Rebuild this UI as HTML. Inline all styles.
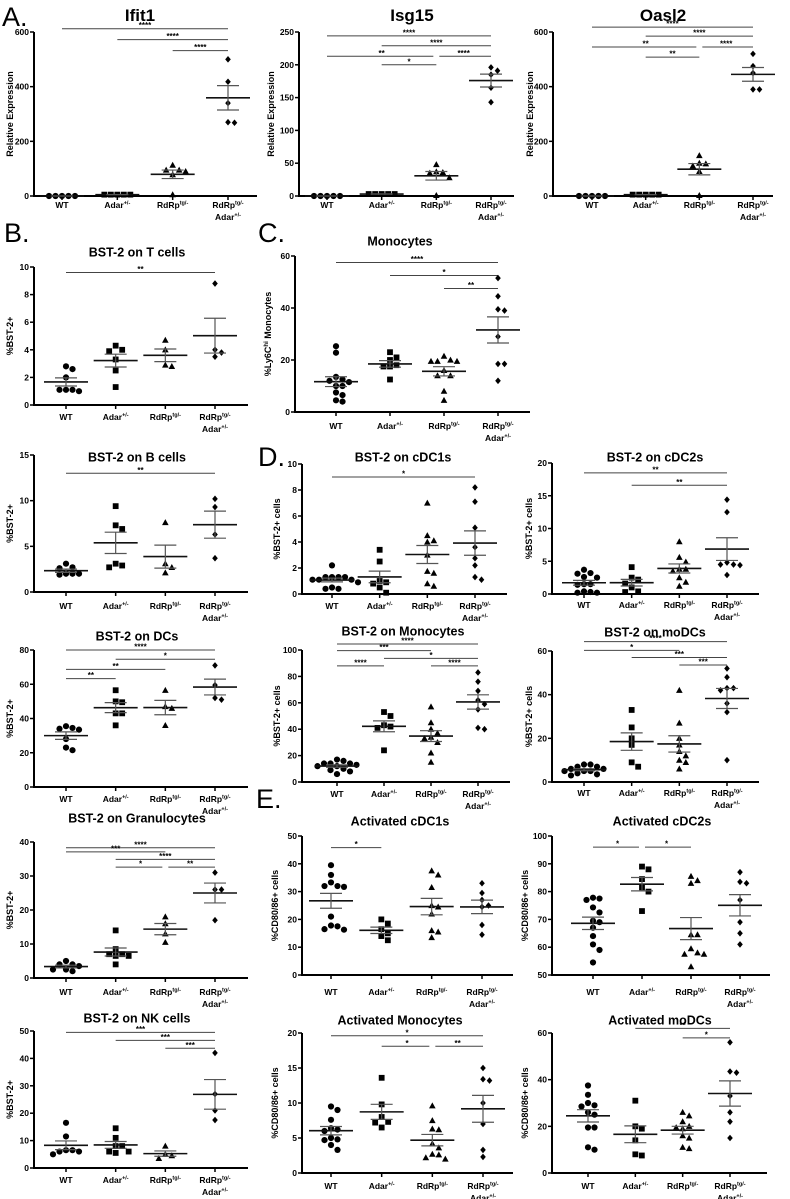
<!DOCTYPE html>
<html><head><meta charset="utf-8"><style>
html,body{margin:0;padding:0;background:#fff;width:790px;height:1199px;overflow:hidden;}
svg{display:block;font-family:"Liberation Sans",Arial,sans-serif;}
</style></head><body>
<svg id="fig" width="790" height="1199" viewBox="0 0 790 1199" xmlns="http://www.w3.org/2000/svg">
<text x="2" y="26" font-size="27">A.</text>
<text x="4" y="242" font-size="27">B.</text>
<text x="258" y="242" font-size="27">C.</text>
<text x="258" y="466" font-size="27">D.</text>
<text x="256" y="808" font-size="27">E.</text>
</svg>
<script>
// ---- data ----
const groupNames = ["WT","Adar","RdRp","RdRpAdar"];
const ifit1Values = [[0,0,0,0,0],[5,5,5,5,5],[113,95,90,78,95,5],[500,418,340,268,270]];
const ifit1Ticks = [0,200,400,600];
const ifit1Sig = [[0,3,612,"****"],[1,3,572,"****"],[2,3,532,"****"]];
const isg15Values = [[0,0,0,0,0],[3,3,3,3,3],[48,37,35,36,28,1],[196,191,185,165,143]];
const isg15Ticks = [0,50,100,150,200,250];
const isg15Sig = [[0,3,244,"****"],[1,3,229,"****"],[0,2,213,"**"],[2,3,213,"****"],[1,2,200,"*"]];
const oasl2Values = [[0,0,0,0,0],[5,5,5,5,5],[148,120,118,110,90,2],[520,475,450,390,390]];
const oasl2Ticks = [0,200,400,600];
const oasl2Sig = [[0,3,618,"****"],[1,3,585,"****"],[0,2,545,"**"],[2,3,545,"****"],[1,2,508,"**"]];
const tcellValues = [[2.8,2.6,2.0,1.1,1.0,1.1,1.1],[4.3,3.9,4.0,3.3,2.5,1.3],[4.7,4.0,2.8,2.9],[8.8,4.0,3.5,3.8]];
const tcellTicks = [0,2,4,6,8,10];
const tcellSig = [[0,3,9.6,"**"]];
const bcellValues = [[3.1,2.6,2.7,2.0,1.9,2.0,2.0],[9.4,6.9,7.3,2.7,3.1,2.9],[7.6,3.1,2.7,2.1],[10.2,9.3,6.3,3.7]];
const bcellTicks = [0,5,10,15];
const bcellSig = [[0,3,13,"**"]];
const dcValues = [[33.5,35.5,34,34.5,28,21.5,23],[56.5,50,49.5,43,43,36],[56.5,47,46,36],[71,59.5,51,52]];
const dcTicks = [0,20,40,60,80];
const dcSig = [[0,3,80,"****"],[1,3,74.6,"*"],[0,2,68.7,"**"],[0,1,63.3,"**"]];
const granValues = [[4,3.5,4,5,2,2.5,2.5],[14,8.5,7,7,6.5,6.5,4],[18,16,13,10.5],[31,26,26,17]];
const granTicks = [0,10,20,30,40];
const granSig = [[0,3,38.3,"****"],[0,2,37.1,"***"],[1,3,34.9,"****"],[1,2,32.6,"*"],[2,3,32.6,"**"]];
const nkValues = [[16.5,11.5,6,6.5,6.5,6,5],[14.5,11,8,8,5.5,6,6],[8,5,4.5,3.5],[42,27,21,17.5]];
const nkTicks = [0,10,20,30,40,50];
const nkSig = [[0,3,49.5,"***"],[1,3,46.6,"***"],[2,3,43.7,"***"]];
const ly6cValues = [[25.3,22.8,13.5,12.5,12,11.5,10,10,7.5,6.5,4,4.5],[23,21,20,18,17.5,17.5,12.5],[21.5,19.5,19.5,19.5,20,16,14,14,8,4.5],[51.5,44.5,39,39.5,29,18.5,18.5,12]];
const ly6cTicks = [0,20,40,60];
const ly6cSig = [[0,3,57.5,"****"],[1,3,52.5,"*"],[2,3,47.5,"**"]];
const cdc1Values = [[2.2,1.3,1.3,1.3,1.3,1.1,1.1,1.1,0.9,0.4,0.4,0.5],[3.4,2.5,1.0,0.9,0.5,0.1,0.8],[7,4.5,4.1,4.0,3.0,1.75,1.6,0.8,0.6],[8.2,7.1,5.1,3.6,2.75,2.2,1.1,1.3]];
const cdc1Ticks = [0,2,4,6,8,10];
const cdc1Sig = [[0,3,9.0,"*"]];
const cdc2Values = [[3.2,3.1,3.7,2.6,2.5,1.5,1.4,1.5,0.2,0.4,0.3,0.2],[4.1,2.5,2.2,1.6,1.0,0.3,0.4],[8,5.6,4.9,3.8,3.8,3.5,2.5,1.8,1.2],[14.4,12.5,4.8,4.5,4.5,4.4,2.9]];
const cdc2Ticks = [0,5,10,15,20];
const cdc2Sig = [[0,3,18.5,"**"],[1,3,16.6,"**"]];
const monoValues = [[16,17,14,14,14,13,12,12,10,9,8,6],[53,50,43,42,41,24],[57,45,40,37,34,33,30,22,15],[83,76,69,62,59,55,41,40]];
const monoTicks = [0,20,40,60,80,100];
const monoSig = [[0,3,104.5,"****"],[0,2,99.5,"***"],[1,3,93.7,"*"],[0,1,88,"****"],[2,3,88,"****"]];
const modcValues = [[8,8,7,7,6,6,5,5,5,4,3.5,3],[33,25,20,17,9,7],[42,27,20,17,14,12,10,9,6],[52,48,43,43,42,36,32,10]];
const modcTicks = [0,20,40,60];
const modcSig = [[0,3,64.3,"****"],[0,2,60.3,"*"],[1,3,57,"***"],[2,3,53.6,"***"]];
const actCdc1Values = [[39.5,36,33.3,32,32,31.7,21,17.8,17.5,16.5,16.3],[20,18.5,16.5,15,14,12.5],[37.5,36,31.5,25,24.5,22,16,15.5,13.5],[33,29.5,27,25,24.5,18,14.5]];
const actCdc1Ticks = [0,10,20,30,40,50];
const actCdc1Sig = [[0,1,45.8,"*"]];
const actCdc2Values = [[77.5,77,77.8,74.3,72.5,69.5,69,67,64,61,59,54.5],[89,88,84.5,81.5,80,73],[85.5,83,84,64.5,64.5,59.5,58,57.5,57.5,53],[87,83.5,83,77,69,65,61]];
const actCdc2Ticks = [50,60,70,80,90,100];
const actCdc2Sig = [[0,1,96,"*"],[1,2,96,"*"]];
const actMonoValues = [[9.5,9,7.6,6.4,6,5,4.8,4.7,4,3.3,6.2],[13.6,9.8,8,7.3,7.2,6.5],[9.6,7.5,6.3,6.2,4.2,3.6,2.7,2.6,2,2.2],[15,13.4,13.2,10,7,3.3,2.3]];
const actMonoTicks = [0,5,10,15,20];
const actMonoSig = [[0,3,19.6,"*"],[1,2,18.1,"*"],[2,3,18.1,"**"]];
const actModcValues = [[37.5,33.5,30,29,28.5,26,25,19.5,19.5,11,10],[31,20,19,14,8,7.5],[26,24.5,22,20,19.5,19,16,15,11,10.5],[56,43.5,43,33,26,22,15]];
const actModcTicks = [0,20,40,60];
const actModcSig = [[1,3,62,"**"],[2,3,57.9,"*"]];

// ---- layout (geometry only) ----
const panels = [
 {id:"ifit1",title:"Ifit1",tsz:17,tx:140,ty:15,yl:"Relative Expression",ylx:10,ax:34,xe:257,yt:32,yb:196,g0:62,g3:228,lo:9,vals:ifit1Values,ticks:ifit1Ticks,sig:ifit1Sig},
 {id:"isg15",title:"Isg15",tsz:17,tx:412,ty:15,yl:"Relative Expression",ylx:271,ax:299,xe:514,yt:32,yb:196,g0:327,g3:491,lo:9,vals:isg15Values,ticks:isg15Ticks,sig:isg15Sig},
 {id:"oasl2",title:"Oasl2",tsz:17,tx:663,ty:15,yl:"Relative Expression",ylx:530,ax:553,xe:773,yt:32,yb:196,g0:592,g3:753,lo:9,vals:oasl2Values,ticks:oasl2Ticks,sig:oasl2Sig},
 {id:"t-cells",title:"BST-2 on  T cells",tx:137,ty:252,yl:"%BST-2+",ylx:10,ax:34,xe:248,yt:267,yb:405,g0:66,g3:215,lo:12,vals:tcellValues,ticks:tcellTicks,sig:tcellSig},
 {id:"b-cells",title:"BST-2 on  B cells",tx:137,ty:457,yl:"%BST-2+",ylx:10,ax:34,xe:248,yt:455,yb:592,g0:66,g3:215,lo:14,vals:bcellValues,ticks:bcellTicks,sig:bcellSig},
 {id:"dcs",title:"BST-2 on DCs",tx:137,ty:636,yl:"%BST-2+",ylx:10,ax:34,xe:248,yt:650,yb:787,g0:66,g3:215,lo:12,vals:dcValues,ticks:dcTicks,sig:dcSig},
 {id:"granulocytes",title:"BST-2 on Granulocytes",tx:137,ty:818,yl:"%BST-2+",ylx:10,ax:34,xe:248,yt:842,yb:978,g0:66,g3:215,lo:14,vals:granValues,ticks:granTicks,sig:granSig},
 {id:"nk-cells",title:"BST-2 on NK cells",tx:137,ty:1018,yl:"%BST-2+",ylx:10,ax:34,xe:248,yt:1031,yb:1168,g0:66,g3:215,lo:12,vals:nkValues,ticks:nkTicks,sig:nkSig},
 {id:"ly6c-monocytes",title:"Monocytes",tx:400,ty:241,yl:"%Ly6C",sup:"hi",yl2:" Monocytes",ylx:268,ax:295,xe:530,yt:256,yb:412,g0:336,g3:498,lo:14,vals:ly6cValues,ticks:ly6cTicks,sig:ly6cSig},
 {id:"bst2-cdc1s",title:"BST-2 on cDC1s",tx:403,ty:457,yl:"%BST-2+ cells",ylx:277,ax:302,xe:507,yt:464,yb:594,g0:332,g3:475,lo:12,vals:cdc1Values,ticks:cdc1Ticks,sig:cdc1Sig},
 {id:"bst2-monocytes",title:"BST-2 on Monocytes",tx:403,ty:631,yl:"%BST-2+ cells",ylx:277,ax:302,xe:510,yt:650,yb:782,g0:337,g3:478,lo:12,vals:monoValues,ticks:monoTicks,sig:monoSig},
 {id:"bst2-cdc2s",title:"BST-2 on cDC2s",tx:655,ty:457,yl:"%BST-2+ cells",ylx:529,ax:552,xe:759,yt:463,yb:594,g0:584,g3:727,lo:11,vals:cdc2Values,ticks:cdc2Ticks,sig:cdc2Sig},
 {id:"bst2-modcs",title:"BST-2 on moDCs",tx:655,ty:632,yl:"%BST-2+ cells",ylx:529,ax:552,xe:759,yt:651,yb:782,g0:584,g3:727,lo:11,vals:modcValues,ticks:modcTicks,sig:modcSig},
 {id:"act-cdc1s",title:"Activated cDC1s",tx:400,ty:821,yl:"%CD80/86+ cells",ylx:275,ax:302,xe:513,yt:836,yb:975,g0:331,g3:482,lo:17,vals:actCdc1Values,ticks:actCdc1Ticks,sig:actCdc1Sig},
 {id:"act-cdc2s",title:"Activated cDC2s",tx:662,ty:821,yl:"%CD80/86+ cells",ylx:525,ax:552,xe:770,yt:836,yb:975,g0:593,g3:740,lo:17,vals:actCdc2Values,ticks:actCdc2Ticks,sig:actCdc2Sig},
 {id:"act-monocytes",title:"Activated Monocytes",tx:400,ty:1020,yl:"%CD80/86+ cells",ylx:275,ax:302,xe:513,yt:1033,yb:1173,g0:331,g3:483,lo:13,vals:actMonoValues,ticks:actMonoTicks,sig:actMonoSig},
 {id:"act-modcs",title:"Activated moDCs",tx:660,ty:1020,yl:"%CD80/86+ cells",ylx:525,ax:552,xe:767,yt:1033,yb:1173,g0:588,g3:730,lo:13,vals:actModcValues,ticks:actModcTicks,sig:actModcSig}
];

const NS="http://www.w3.org/2000/svg";
const svg=document.getElementById("fig");
function mk(tag,attrs,parent){const e=document.createElementNS(NS,tag);for(const k in attrs)e.setAttribute(k,attrs[k]);(parent||svg).appendChild(e);return e;}

function marker(g,shape,x,y){
  let e;
  if(shape===0){e=mk("circle",{cx:x,cy:y,r:3.1,fill:"#000"},g);}
  else if(shape===1){e=mk("rect",{x:x-2.9,y:y-2.9,width:5.8,height:5.8,fill:"#000"},g);}
  else if(shape===2){e=mk("polygon",{points:`${x},${y-3.4} ${x+3.3},${y+2.6} ${x-3.3},${y+2.6}`,fill:"#000"},g);}
  else {e=mk("polygon",{points:`${x},${y-3.3} ${x+2.8},${y} ${x},${y+3.3} ${x-2.8},${y}`,fill:"#000"},g);}
  
  
}

function groupLabel(g,i,x,y){
  const t=mk("text",{x:x,y:y,"text-anchor":"middle","font-size":"8.5","font-weight":"bold"},g);
  
  
  const sup=(base,s)=>{t.appendChild(document.createTextNode(base));const ts=mk("tspan",{"font-size":"5.5",dy:"-3.5"},t);ts.textContent=s;};
  if(i===0)t.textContent="WT";
  else if(i===1)sup("Adar","+/-");
  else if(i===2)sup("RdRp","tg/-");
  else{
    sup("RdRp","tg/-");
    const t2=mk("text",{x:x,y:y+12,"text-anchor":"middle","font-size":"8.5","font-weight":"bold"},g);
    
    
    t2.appendChild(document.createTextNode("Adar"));
    const ts=mk("tspan",{"font-size":"5.5",dy:"-3.5"},t2);ts.textContent="+/-";
  }
}

panels.forEach(p=>{
  const g=mk("g",{});
  
  
  const ymin=p.ticks[0], ymax=p.ticks[p.ticks.length-1];
  const Y=v=>p.yb-(v-ymin)/(ymax-ymin)*(p.yb-p.yt);
  const X=i=>p.g0+i*(p.g3-p.g0)/3;
  const tsz=p.tsz||12.5;
  const tt=mk("text",{x:p.tx,y:p.ty+tsz*0.36,"text-anchor":"middle","font-size":tsz,"font-weight":"bold"},g);
  tt.textContent=p.title;
  
  
  const yl=mk("text",{x:0,y:0,"text-anchor":"middle","font-size":"9","font-weight":"bold",transform:`translate(${p.ylx+3},${(p.yt+p.yb)/2}) rotate(-90)`},g);
  
  
  yl.appendChild(document.createTextNode(p.yl));
  if(p.sup){const s=mk("tspan",{"font-size":"6",dy:"-3"},yl);s.textContent=p.sup;const r=mk("tspan",{dy:"3"},yl);r.textContent=p.yl2;}
  const ya=mk("line",{x1:p.ax,y1:p.yt,x2:p.ax,y2:p.yb+1,stroke:"#000","stroke-width":2},g);
  
  
  const xa=mk("line",{x1:p.ax-1,y1:p.yb,x2:p.xe,y2:p.yb,stroke:"#000","stroke-width":2},g);
  
  
  p.ticks.forEach(v=>{
    mk("line",{x1:p.ax-4,y1:Y(v),x2:p.ax,y2:Y(v),stroke:"#000","stroke-width":1.5},g);
    const tl=mk("text",{x:p.ax-5,y:Y(v)+3,"text-anchor":"end","font-size":"8.5","font-weight":"bold"},g);
    tl.textContent=v;
    
    
  });
  for(let i=0;i<4;i++){
    mk("line",{x1:X(i),y1:p.yb,x2:X(i),y2:p.yb+4,stroke:"#000","stroke-width":1.5},g);
    groupLabel(g,i,X(i),p.yb+p.lo+3);
  }
  p.sig.forEach(s=>{
    const y=Y(s[2]);
    const l=mk("line",{x1:X(s[0])+(p.sig.some(o=>o!==s&&o[1]===s[0]&&o[2]===s[2])?3:0),y1:y,x2:X(s[1])-(p.sig.some(o=>o!==s&&o[0]===s[1]&&o[2]===s[2])?3:0),y2:y,stroke:"#444","stroke-width":1},g);
    
    
    const st=mk("text",{x:(X(s[0])+X(s[1]))/2,y:y-0.5,"text-anchor":"middle","font-size":"8","font-weight":"bold"},g);
    st.textContent=s[3];
    
    
  });
  p.vals.forEach((arr,i)=>{
    const cx=X(i);
    const n=arr.length, mean=arr.reduce((a,b)=>a+b,0)/n;
    const sd=Math.sqrt(arr.reduce((a,b)=>a+(b-mean)*(b-mean),0)/Math.max(1,n-1));
    const sem=sd/Math.sqrt(n);
    const gg=mk("g",{},g);
    
    
    const placed=[];
    arr.map((v,k)=>({v,k})).sort((a,b)=>b.v-a.v).forEach(o=>{
      const y=Y(o.v);
      const cands=[0,6.5,-6.5,13,-13,19.5,-19.5,26,-26,32.5,-32.5];
      let dx=0;
      for(const c of cands){if(placed.every(q=>Math.hypot(q.x-c,q.y-y)>=6.3)){dx=c;break;}}
      placed.push({x:dx,y:y});
      marker(gg,i,cx+dx,y);
    });
    const ml=mk("line",{x1:cx-22,y1:Y(mean),x2:cx+22,y2:Y(mean),stroke:"#111","stroke-width":1.6},gg);
    
    
    const e1=mk("path",{d:`M${cx},${Y(mean-sem)}V${Y(mean+sem)}M${cx-11},${Y(mean+sem)}H${cx+11}M${cx-11},${Y(mean-sem)}H${cx+11}`,stroke:"#555","stroke-width":1.2,fill:"none"},gg);
    
    
  });
});
</script>
</body></html>
